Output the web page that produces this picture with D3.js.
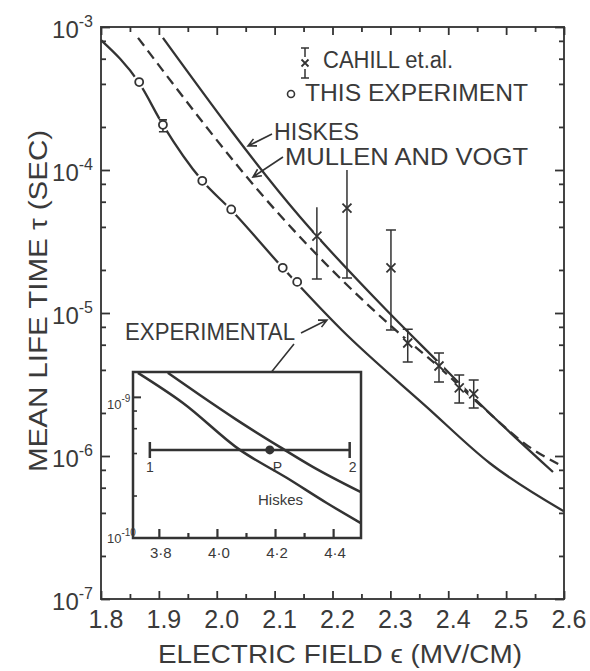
<!DOCTYPE html>
<html>
<head>
<meta charset="utf-8">
<script src="https://cdn.jsdelivr.net/npm/d3@7"></script>
<style>
  html, body { margin: 0; padding: 0; background: #fff; }
  svg { display: block; }
  text { font-family: "Liberation Sans", Arial, sans-serif; fill: #3a3a3a; }
</style>
</head>
<body>
<svg width="590" height="671"></svg>
<script>
// axis ticks
const xTicks = [1.8, 1.9, 2.0, 2.1, 2.2, 2.3, 2.4, 2.5, 2.6];
const xMinor = [1.85, 1.95, 2.05, 2.15, 2.25, 2.35, 2.45, 2.55];
const yDecades = [-7, -6, -5, -4, -3];
const yMinorMult = [2, 4, 6, 8];

// "experimental" fitted curve
const expField = [1.80, 1.866, 1.907, 1.975, 2.025, 2.114, 2.216, 2.363, 2.472, 2.60];
const expTau = [8.1e-4, 4.06e-4, 2.07e-4, 8.4e-5, 5.25e-5, 2.07e-5, 7.6e-6, 2.2e-6, 8.9e-7, 4.1e-7];

// this experiment (circles)
const ptField = [1.866, 1.907, 1.975, 2.025, 2.114, 2.139];
const ptTau = [4.12e-4, 2.07e-4, 8.4e-5, 5.3e-5, 2.07e-5, 1.65e-5];
const ptHi = [null, 2.24e-4, null, null, null, null];
const ptLo = [null, 1.85e-4, null, null, null, null];

// Cahill et al. (crosses with error bars)
const cahillField = [2.173, 2.225, 2.301, 2.330, 2.384, 2.419, 2.444];
const cahillTau = [3.45e-5, 5.42e-5, 2.07e-5, 6.17e-6, 4.26e-6, 2.99e-6, 2.72e-6];
const cahillHi = [5.5e-5, 1.0e-4, 3.8e-5, 7.7e-6, 5.25e-6, 3.68e-6, 3.4e-6];
const cahillLo = [1.73e-5, 1.76e-5, 7.6e-6, 4.54e-6, 3.29e-6, 2.35e-6, 2.17e-6];

// theory curves
const hiskesField = [1.907, 2.144, 2.291, 2.386, 2.455, 2.581];
const hiskesTau = [8.4e-4, 4.69e-5, 1.07e-5, 4.4e-6, 2.31e-6, 7.73e-7];
const mvField = [1.864, 2.109, 2.299, 2.386, 2.455, 2.545, 2.590];
const mvTau = [8.4e-4, 4.84e-5, 8.24e-6, 4.12e-6, 2.28e-6, 1.12e-6, 8.79e-7];

// inset
const insetTicks = [3.8, 4.0, 4.2, 4.4];
const insetMinor = [3.9, 4.1, 4.3];
const insetDecades = [-10, -9];
const insetExpField = [3.831, 3.941, 4.068, 4.216, 4.330, 4.494];
const insetExpTau = [1.48e-9, 1.03e-9, 6.87e-10, 4.42e-10, 3.19e-10, 2.12e-10];
const insetHiskesField = [3.728, 3.883, 4.079, 4.240, 4.378, 4.494];
const insetHiskesTau = [1.48e-9, 9.06e-10, 4.21e-10, 2.67e-10, 1.77e-10, 1.28e-10];
const barField = [3.769, 4.457];
const barTau = 4.21e-10;
const pField = 4.182;

const ink = '#333';
const svg = d3.select('svg');

const x = d3.scaleLinear().domain([1.8, 2.6]).range([101, 564]);
const y = d3.scaleLog().domain([1e-7, 1e-3]).range([599, 27]);

const [x0, x1] = x.range();
const [y0, y1] = y.range();

const yMajor = yDecades.map(d => 10 ** d);
const yMinor = d3.merge(yDecades.slice(0, -1).map(d => yMinorMult.map(m => m * 10 ** d)));

function ticks(axisFn, scale, vals, size, transform, width) {
  svg.append('g')
    .attr('transform', transform)
    .call(axisFn(scale).tickValues(vals).tickSize(size).tickFormat(''))
    .call(g => g.select('.domain').remove())
    .call(g => g.selectAll('text').remove())
    .selectAll('line')
    .attr('stroke', ink)
    .attr('stroke-width', width || 1.8);
}

// frame of main plot
svg.append('rect')
  .attr('x', x0).attr('y', y1)
  .attr('width', x1 - x0).attr('height', y0 - y1)
  .attr('fill', 'none').attr('stroke', '#444').attr('stroke-width', 2);

ticks(d3.axisBottom, x, xTicks, -8, `translate(0,${y0})`);
ticks(d3.axisBottom, x, xMinor, -5, `translate(0,${y0})`);
ticks(d3.axisTop, x, xTicks, -8, `translate(0,${y1})`);
ticks(d3.axisTop, x, xMinor, -5, `translate(0,${y1})`);
ticks(d3.axisLeft, y, yMajor, -9, `translate(${x0},0)`);
ticks(d3.axisLeft, y, yMinor, -5, `translate(${x0},0)`);
ticks(d3.axisRight, y, yMajor, -9, `translate(${x1},0)`);
ticks(d3.axisRight, y, yMinor, -5, `translate(${x1},0)`);

// x tick labels
svg.append('g').selectAll('text')
  .data(xTicks)
  .enter().append('text')
  .attr('x', d => x(d) + 5)
  .attr('y', y0 + 29)
  .attr('text-anchor', 'middle')
  .attr('font-size', 25)
  .text(d3.format('.1f'));

// y tick labels 10^n
const yLab = svg.append('g').selectAll('text')
  .data(yDecades)
  .enter().append('text')
  .attr('x', 93)
  .attr('y', d => y(10 ** d) + 11)
  .attr('text-anchor', 'end')
  .attr('font-size', 24);
yLab.append('tspan').text('10');
yLab.append('tspan').attr('dy', -11).attr('font-size', 16).text(d => '-' + Math.abs(d));

// axis titles
svg.append('text')
  .attr('x', 158).attr('y', 663)
  .attr('font-size', 25)
  .attr('textLength', 364).attr('lengthAdjust', 'spacingAndGlyphs')
  .text('ELECTRIC FIELD ϵ (MV/CM)');

svg.append('text')
  .attr('transform', 'translate(47,301) rotate(-90)')
  .attr('text-anchor', 'middle')
  .attr('font-size', 25)
  .attr('textLength', 342).attr('lengthAdjust', 'spacingAndGlyphs')
  .text('MEAN LIFE TIME  τ (SEC)');

// curves
const line = d3.line()
  .x(d => x(d[0]))
  .y(d => y(d[1]))
  .curve(d3.curveMonotoneX);

svg.append('path')
  .datum(d3.zip(hiskesField, hiskesTau))
  .attr('d', line)
  .attr('fill', 'none').attr('stroke', ink).attr('stroke-width', 2.3);

svg.append('path')
  .datum(d3.zip(mvField, mvTau))
  .attr('d', line)
  .attr('fill', 'none').attr('stroke', ink).attr('stroke-width', 2.3)
  .attr('stroke-dasharray', '10,6');

svg.append('path')
  .datum(d3.zip(expField, expTau))
  .attr('d', line)
  .attr('fill', 'none').attr('stroke', ink).attr('stroke-width', 2.3);

// this experiment: circles, with a white gap in the line around them
const pts = d3.zip(ptField, ptTau, ptLo, ptHi);
svg.append('g').selectAll('circle')
  .data(pts)
  .enter().append('circle')
  .attr('cx', d => x(d[0])).attr('cy', d => y(d[1]))
  .attr('r', 7).attr('fill', '#fff');
pts.filter(d => d[2] != null).forEach(d => {
  const px = x(d[0]);
  svg.append('path')
    .attr('d', `M${px - 4},${y(d[3])}H${px + 4}M${px - 4},${y(d[2])}H${px + 4}M${px},${y(d[3])}V${y(d[2])}`)
    .attr('stroke', ink).attr('stroke-width', 1.6).attr('fill', 'none');
});
svg.append('g').selectAll('circle')
  .data(pts)
  .enter().append('circle')
  .attr('cx', d => x(d[0])).attr('cy', d => y(d[1]))
  .attr('r', 4).attr('fill', '#fff')
  .attr('stroke', ink).attr('stroke-width', 1.8);

// Cahill et al. crosses
const cahill = d3.zip(cahillField, cahillTau, cahillLo, cahillHi);
const cg = svg.append('g').attr('stroke', ink).attr('fill', 'none');
cahill.forEach((d, i) => {
  const px = x(d[0]), py = y(d[1]), hi = y(d[3]), lo = y(d[2]);
  cg.append('circle').attr('cx', px).attr('cy', py).attr('r', 5.5)
    .attr('fill', '#fff').attr('stroke', 'none');
  let p = `M${px},${hi}V${lo}M${px - 5},${lo}H${px + 5}`;
  if (i > 1) p += `M${px - 5},${hi}H${px + 5}`;
  cg.append('path').attr('d', p).attr('stroke-width', 1.5);
  cg.append('path')
    .attr('d', `M${px - 4.5},${py - 4.5}L${px + 4.5},${py + 4.5}M${px - 4.5},${py + 4.5}L${px + 4.5},${py - 4.5}`)
    .attr('stroke-width', 1.8);
});

// legend
const lg = svg.append('g').attr('stroke', ink).attr('fill', 'none');
lg.append('path')
  .attr('d', 'M301,48H309M305,48V57M305,69V78M301,78H309')
  .attr('stroke-width', 1.5);
lg.append('path')
  .attr('d', 'M301.5,59.5L308.5,66.5M301.5,66.5L308.5,59.5')
  .attr('stroke-width', 1.8);
lg.append('circle').attr('cx', 291).attr('cy', 94).attr('r', 3.5).attr('stroke-width', 1.6);

svg.append('text').attr('x', 323).attr('y', 68).attr('font-size', 23)
  .attr('textLength', 130).attr('lengthAdjust', 'spacingAndGlyphs')
  .text('CAHILL  et.al.');
svg.append('text').attr('x', 305).attr('y', 101).attr('font-size', 24)
  .attr('textLength', 223).attr('lengthAdjust', 'spacingAndGlyphs')
  .text('THIS EXPERIMENT');

// curve labels
svg.append('text').attr('x', 274).attr('y', 140).attr('font-size', 23)
  .attr('textLength', 85).attr('lengthAdjust', 'spacingAndGlyphs')
  .text('HISKES');
svg.append('text').attr('x', 285).attr('y', 165).attr('font-size', 24)
  .attr('textLength', 243).attr('lengthAdjust', 'spacingAndGlyphs')
  .text('MULLEN AND VOGT');
svg.append('text').attr('x', 125).attr('y', 340).attr('font-size', 23)
  .attr('textLength', 170).attr('lengthAdjust', 'spacingAndGlyphs')
  .text('EXPERIMENTAL');

function arrow(xa, ya, xb, yb) {
  const a = Math.atan2(yb - ya, xb - xa);
  const L = 9, w = 0.45;
  const h1 = [xb - L * Math.cos(a - w), yb - L * Math.sin(a - w)];
  const h2 = [xb - L * Math.cos(a + w), yb - L * Math.sin(a + w)];
  svg.append('path')
    .attr('d', `M${xa},${ya}L${xb},${yb}M${h1}L${xb},${yb}L${h2}`)
    .attr('fill', 'none').attr('stroke', ink).attr('stroke-width', 1.6);
}
arrow(272, 134, 248, 146);
arrow(283, 157, 253, 177);
arrow(301, 333, 327, 320);
arrow(294, 344, 237, 415);

// inset
const ix = d3.scaleLinear().domain([3.711, 4.496]).range([133, 361]);
const iy = d3.scaleLog().domain([1e-10, 1.5e-9]).range([538, 372]);
const [ix0, ix1] = ix.range();
const [iy0, iy1] = iy.range();

svg.append('clipPath').attr('id', 'inset-clip')
  .append('rect').attr('x', ix0).attr('y', iy1).attr('width', ix1 - ix0).attr('height', iy0 - iy1);

svg.append('rect')
  .attr('x', ix0).attr('y', iy1)
  .attr('width', ix1 - ix0).attr('height', iy0 - iy1)
  .attr('fill', '#fff');

const inset = svg.append('g').attr('clip-path', 'url(#inset-clip)');
const iline = d3.line()
  .x(d => ix(d[0]))
  .y(d => iy(d[1]))
  .curve(d3.curveMonotoneX);

inset.append('path')
  .datum(d3.zip(insetExpField, insetExpTau))
  .attr('d', iline)
  .attr('fill', 'none').attr('stroke', ink).attr('stroke-width', 2.5);
inset.append('path')
  .datum(d3.zip(insetHiskesField, insetHiskesTau))
  .attr('d', iline)
  .attr('fill', 'none').attr('stroke', ink).attr('stroke-width', 2.5);

const by = iy(barTau);
const bx = barField.map(ix);
inset.append('path')
  .attr('d', `M${bx[0]},${by}H${bx[1]}M${bx[0]},${by - 8}V${by + 8}M${bx[1]},${by - 8}V${by + 8}`)
  .attr('fill', 'none').attr('stroke', ink).attr('stroke-width', 2.5);
inset.append('circle')
  .attr('cx', ix(pField)).attr('cy', by).attr('r', 4.5).attr('fill', ink);

svg.append('g')
  .attr('font-size', 14)
  .selectAll('text')
  .data([['1', bx[0], 'middle'], ['2', bx[1] + 3, 'middle'], ['P', ix(pField) + 3, 'start']])
  .enter().append('text')
  .attr('x', d => d[1]).attr('y', by + 22)
  .attr('text-anchor', d => d[2])
  .text(d => d[0]);

svg.append('text').attr('x', 258).attr('y', 505).attr('font-size', 15)
  .text('Hiskes');

svg.append('rect')
  .attr('x', ix0).attr('y', iy1)
  .attr('width', ix1 - ix0).attr('height', iy0 - iy1)
  .attr('fill', 'none').attr('stroke', ink).attr('stroke-width', 2.5);

const iyMajor = insetDecades.map(d => 10 ** d);
const iyMinor = yMinorMult.map(m => m * 1e-10);
ticks(d3.axisBottom, ix, insetTicks, -9, `translate(0,${iy0})`, 2.2);
ticks(d3.axisBottom, ix, insetMinor, -5, `translate(0,${iy0})`, 2.2);
ticks(d3.axisLeft, iy, iyMajor.slice(1), -8, `translate(${ix0},0)`, 2);
ticks(d3.axisLeft, iy, iyMinor, -4, `translate(${ix0},0)`, 1.6);

svg.append('g').selectAll('text')
  .data(insetTicks)
  .enter().append('text')
  .attr('x', d => ix(d) + 2)
  .attr('y', iy0 + 20)
  .attr('text-anchor', 'middle')
  .attr('font-size', 15)
  .attr('fill', '#555')
  .text(d => d3.format('.1f')(d).replace('.', '·'));

const iyLab = svg.append('g').selectAll('text')
  .data(insetDecades)
  .enter().append('text')
  .attr('x', 107)
  .attr('y', d => iy(10 ** d) + (d === -10 ? 5 : 12))
  .attr('font-size', 13)
  .attr('fill', '#555');
iyLab.append('tspan').text('10');
iyLab.append('tspan').attr('dy', -7).attr('font-size', 10).text(d => '-' + Math.abs(d));
</script>
</body>
</html>
